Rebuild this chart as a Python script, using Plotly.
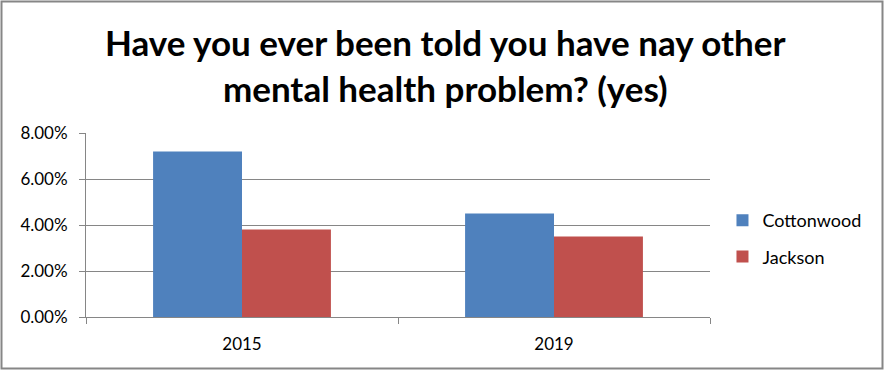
import plotly.graph_objects as go

years = ["2015", "2019"]
cottonwood = [0.072, 0.045]
jackson = [0.038, 0.035]
series_names = ["Cottonwood", "Jackson"]
series_colors = ["#4F81BD", "#C0504D"]
title_text = "Have you ever been told you have nay other<br>mental health problem? (yes)"

font_family = "Lato, Calibri, Carlito, sans-serif"

# plot area geometry in px
W, H = 884, 370
L, R, T, B = 86, 174, 133, 53
PW, PH = W - L - R, H - T - B

fig = go.Figure()
for name, vals, color in zip(series_names, [cottonwood, jackson], series_colors):
    fig.add_trace(go.Bar(
        x=years, y=vals, name=name, legendgroup=name,
        marker=dict(color=color, line=dict(width=0)),
        hoverinfo="x+y+name",
    ))

fig.update_layout(
    width=W, height=H,
    margin=dict(l=L, r=R, t=T, b=B),
    paper_bgcolor="white", plot_bgcolor="white",
    barmode="group", bargap=0.43, bargroupgap=0,
    font=dict(family=font_family, size=17, color="#000000"),
    legend=dict(
        x=1.02, xanchor="left", y=0.427, yanchor="middle",
        traceorder="grouped", tracegroupgap=10,
        font=dict(family=font_family, size=18, color="#000000"),
        bgcolor="rgba(0,0,0,0)",
    ),
    xaxis=dict(
        type="category", showgrid=False, showline=True, linecolor="#868686", linewidth=1,
        ticks="outside", tickson="boundaries", ticklen=6, tickcolor="#868686",
        ticklabelstandoff=12, tickfont=dict(size=17), fixedrange=True,
    ),
    yaxis=dict(
        range=[0, 0.08], dtick=0.02, tickformat=".2%",
        showgrid=True, gridcolor="#868686", gridwidth=1,
        showline=True, linecolor="#868686", linewidth=1,
        ticks="outside", ticklen=6, tickcolor="#868686",
        ticklabelstandoff=8, tickfont=dict(size=17), zeroline=False, fixedrange=True,
    ),
    shapes=[dict(
        type="rect", xref="paper", yref="paper",
        x0=-(L - 1.5) / PW, x1=(W - L - 1.5) / PW,
        y0=-(B - 1.5) / PH, y1=(PH + T - 1.5) / PH,
        line=dict(color="#868686", width=2), fillcolor="rgba(0,0,0,0)", layer="below",
    )],
)

# two-line chart title, centred over the whole chart
fig.add_annotation(
    text=title_text, xref="paper", yref="paper",
    x=(W / 2 + 3 - L) / PW, xanchor="center",
    y=1 + (T - 65) / PH, yanchor="middle",
    showarrow=False, align="center",
    font=dict(family=font_family, size=35, color="black", weight="bold"),
)

fig.write_html("out.html")
